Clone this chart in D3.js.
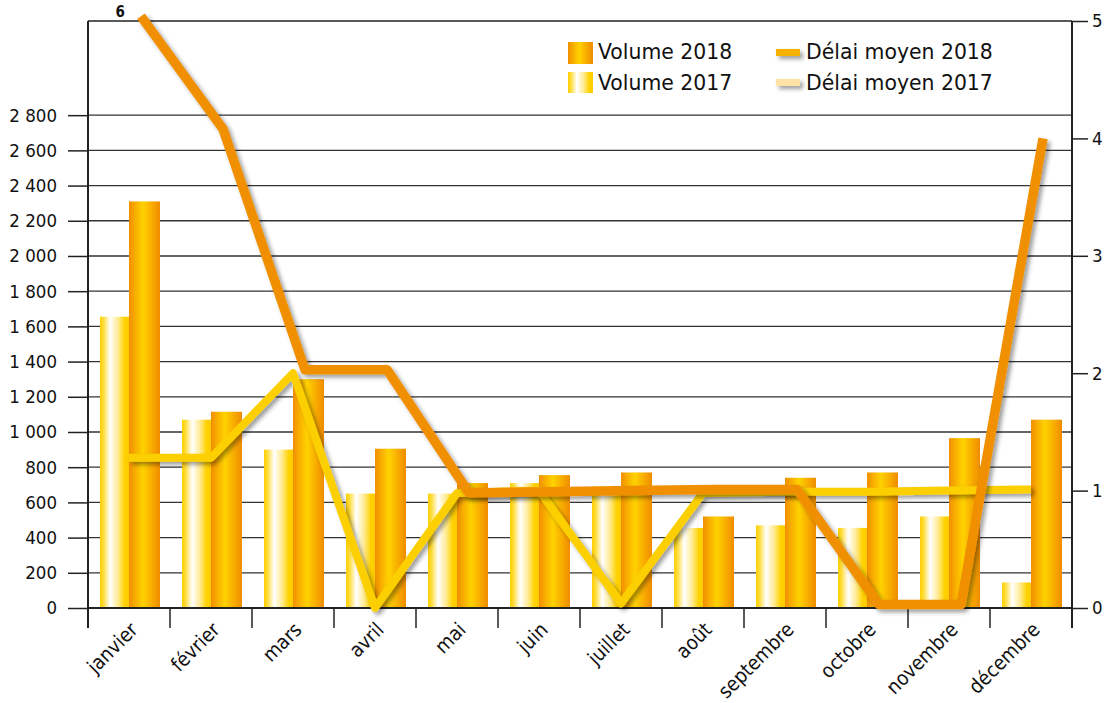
<!DOCTYPE html>
<html>
<head>
<meta charset="utf-8">
<script src="https://cdn.jsdelivr.net/npm/d3@7"></script>
<style>
  body { margin: 0; background: #fff; }
  svg { display: block; }
  .legend text { font-family: "DejaVu Sans", sans-serif; font-size: 20.4px; fill: #111; }
</style>
</head>
<body>
<svg id="chart" width="1111" height="703"></svg>
<script>
// Monthly volumes (left axis) and average delays (right axis)
const months = ["janvier", "février", "mars", "avril", "mai", "juin",
                "juillet", "août", "septembre", "octobre", "novembre", "décembre"];
const volume2017 = [1655, 1070, 900, 650, 650, 710, 690, 455, 470, 455, 520, 145];
const volume2018 = [2310, 1115, 1300, 905, 710, 755, 770, 520, 740, 770, 965, 1070];
const delai2017 = [1.28, 1.28, 2.0, 0, 0.98, 1.0, 0.04, 0.98, 0.99, 0.99, 1.0, 1.01];
const delai2018 = [6, 4.08, 2.03, 2.03, 0.98, 0.99, 1.0, 1.01, 1.01, 0.03, 0.03, 4.0];
const volumeTicks = d3.range(0, 2801, 200);
const delaiTicks = [0, 1, 2, 3, 4, 5];
const seriesNames = ["2017", "2018"];

const svg = d3.select("#chart");
const plotLeft = 88, plotRight = 1072, plotTop = 21, plotBottom = 608;
const condFont = "'DejaVu Sans Condensed', 'DejaVu Sans', sans-serif";

const x = d3.scaleBand().domain(months).range([plotLeft, plotRight]);
const xSeries = d3.scaleBand().domain(seriesNames).range([12, 72]);
const yVol = d3.scaleLinear().domain([0, 3335]).range([plotBottom, plotTop]);
const yDelai = d3.scaleLinear().domain([0, 5]).range([plotBottom, plotTop]);
// delays above the axis maximum are pinned just over the frame top
const delaiCap = 5.04;
const yLine = d3.scaleLinear().domain([0, delaiCap]).range([plotBottom, yDelai(delaiCap)]).clamp(true);

const frLocale = d3.formatLocale({ decimal: ",", thousands: " ", grouping: [3], currency: ["", " €"] });
const fmtVol = frLocale.format(",d");

// ---- defs: gradients + shadow
const defs = svg.append("defs");
function hGrad(id, stops) {
  const g = defs.append("linearGradient").attr("id", id)
    .attr("x1", "0%").attr("x2", "100%").attr("y1", "0%").attr("y2", "0%");
  stops.forEach(([o, c]) => g.append("stop").attr("offset", o).attr("stop-color", c));
}
hGrad("g2017", [["0%", "#FFCF00"], ["12%", "#FFDC3A"], ["35%", "#FFFFFF"], ["62%", "#FFEB94"], ["85%", "#FFD200"], ["100%", "#FFCB00"]]);
hGrad("g2018", [["0%", "#F18E00"], ["20%", "#F8AE00"], ["45%", "#FFD200"], ["75%", "#F8AB00"], ["100%", "#EF8C00"]]);

const shadow = defs.append("filter").attr("id", "shadow")
  .attr("filterUnits", "userSpaceOnUse").attr("x", 0).attr("y", -20).attr("width", 1111).attr("height", 740);
shadow.append("feDropShadow").attr("dx", 3).attr("dy", 3).attr("stdDeviation", 2.2)
  .attr("flood-color", "#000").attr("flood-opacity", 0.38);

// ---- grid
svg.append("g").selectAll("line").data(volumeTicks.filter(d => d > 0)).join("line")
  .attr("x1", plotLeft).attr("x2", plotRight)
  .attr("y1", d => yVol(d)).attr("y2", d => yVol(d))
  .attr("stroke", "#333").attr("stroke-width", 1.3);

// frame top
svg.append("line").attr("x1", plotLeft).attr("x2", plotRight).attr("y1", plotTop).attr("y2", plotTop)
  .attr("stroke", "#222").attr("stroke-width", 1.5);

// ---- bars
const barData = months.map((m, i) => ({ m, v2017: volume2017[i], v2018: volume2018[i] }));
const groups = svg.append("g").selectAll("g").data(barData).join("g")
  .attr("transform", d => `translate(${x(d.m)},0)`);
groups.append("rect")
  .attr("x", xSeries("2017")).attr("width", xSeries.bandwidth() - 1)
  .attr("y", d => yVol(d.v2017)).attr("height", d => plotBottom - yVol(d.v2017))
  .attr("fill", "url(#g2017)");
groups.append("rect")
  .attr("x", xSeries("2018") - 1).attr("width", xSeries.bandwidth() + 1)
  .attr("y", d => yVol(d.v2018)).attr("height", d => plotBottom - yVol(d.v2018))
  .attr("fill", "url(#g2018)");

// ---- axes
const axisColor = "#222";
// left axis
const gl = svg.append("g").attr("transform", `translate(${plotLeft},0)`)
  .call(d3.axisLeft(yVol).tickValues(volumeTicks).tickSize(20).tickPadding(11).tickFormat(fmtVol));
gl.select(".domain").remove();
gl.selectAll(".tick line").attr("stroke", axisColor).attr("stroke-width", 1.5);
gl.selectAll(".tick text").attr("font-size", 18.5).attr("fill", "#111")
  .attr("font-family", condFont).attr("font-stretch", "condensed");

// right axis
const gr = svg.append("g").attr("transform", `translate(${plotRight},0)`)
  .call(d3.axisRight(yDelai).tickValues(delaiTicks).tickSize(16).tickPadding(4).tickFormat(d3.format("d")));
gr.select(".domain").remove();
gr.selectAll(".tick line").attr("stroke", axisColor).attr("stroke-width", 1.5);
gr.selectAll(".tick text").attr("font-size", 18.5).attr("fill", "#111")
  .attr("font-family", condFont).attr("font-stretch", "condensed");

// vertical axis lines and baseline
[plotLeft, plotRight].forEach(px => svg.append("line").attr("x1", px).attr("x2", px)
  .attr("y1", plotTop).attr("y2", plotBottom + 20).attr("stroke", axisColor).attr("stroke-width", 2));
svg.append("line").attr("x1", plotLeft).attr("x2", plotRight).attr("y1", plotBottom).attr("y2", plotBottom)
  .attr("stroke", axisColor).attr("stroke-width", 2);

// category boundary ticks
const bounds = months.map(m => x(m)).concat([x.range()[1]]);
svg.append("g").selectAll("line").data(bounds).join("line")
  .attr("x1", d => d).attr("x2", d => d).attr("y1", plotBottom).attr("y2", plotBottom + 20)
  .attr("stroke", axisColor).attr("stroke-width", 1.5);

// month labels
svg.append("g").selectAll("text").data(months).join("text")
  .attr("transform", m => `translate(${x(m) + x.bandwidth() / 2 + 10},${plotBottom + 23}) rotate(-45)`)
  .attr("text-anchor", "end")
  .attr("font-family", condFont)
  .attr("font-stretch", "condensed")
  .attr("font-size", 20).attr("fill", "#111")
  .text(m => m);

// ---- delay lines
const center = m => x(m) + x.bandwidth() / 2;
const line2017 = d3.line().x((d, i) => center(months[i])).y(d => yLine(d));
const line2018 = d3.line().x((d, i) => center(months[i]) + 12).y(d => yLine(d));

svg.append("path").datum(delai2017).attr("d", line2017)
  .attr("fill", "none").attr("stroke", "#FCCF00").attr("stroke-width", 8)
  .attr("stroke-linejoin", "round").attr("filter", "url(#shadow)");
svg.append("path").datum(delai2018).attr("d", line2018)
  .attr("fill", "none").attr("stroke", "#F09000").attr("stroke-width", 9.5)
  .attr("stroke-linejoin", "round").attr("filter", "url(#shadow)");

// value label for off-scale delays
svg.append("g").selectAll("text")
  .data(delai2018.map((v, i) => ({ v, i })).filter(d => d.v > 5))
  .join("text")
  .attr("x", d => center(months[d.i]) + 12 - 16).attr("y", 17)
  .attr("text-anchor", "end")
  .attr("font-family", condFont)
  .attr("font-weight", "bold").attr("font-size", 15).attr("fill", "#111")
  .text(d => d.v);

// ---- legend
const legend = svg.append("g").attr("class", "legend");
legend.append("rect").attr("x", 568).attr("y", 42).attr("width", 25).attr("height", 22).attr("fill", "url(#g2018)");
legend.append("text").attr("x", 598).attr("y", 59).text("Volume 2018");
legend.append("rect").attr("x", 568).attr("y", 72).attr("width", 25).attr("height", 21).attr("fill", "url(#g2017)");
legend.append("text").attr("x", 598).attr("y", 90).text("Volume 2017");
legend.append("line").attr("x1", 776).attr("x2", 800).attr("y1", 52.5).attr("y2", 52.5)
  .attr("stroke", "#F7B200").attr("stroke-width", 7).attr("filter", "url(#shadow)");
legend.append("text").attr("x", 806).attr("y", 59).text("Délai moyen 2018");
legend.append("line").attr("x1", 776).attr("x2", 800).attr("y1", 82.5).attr("y2", 82.5)
  .attr("stroke", "#FFE2A6").attr("stroke-width", 7).attr("filter", "url(#shadow)");
legend.append("text").attr("x", 806).attr("y", 90).text("Délai moyen 2017");
</script>
</body>
</html>
